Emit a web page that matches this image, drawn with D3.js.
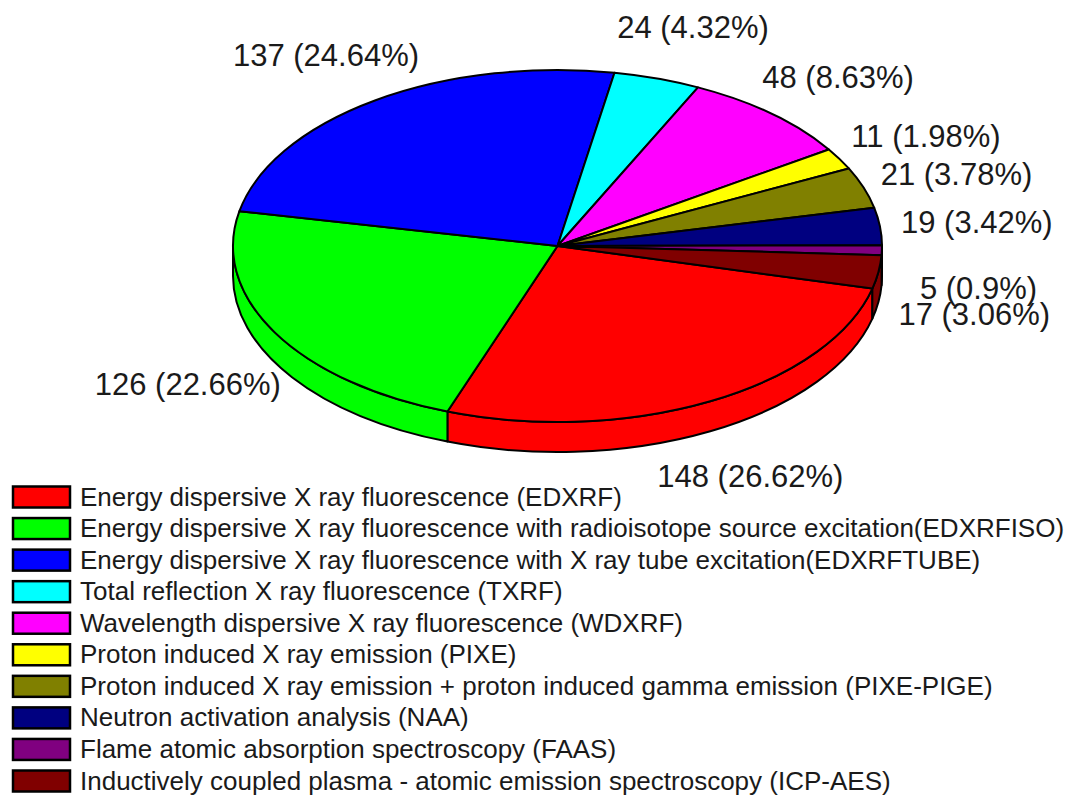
<!DOCTYPE html>
<html>
<head>
<meta charset="utf-8">
<script src="https://cdn.jsdelivr.net/npm/d3@7"></script>
<style>
  html, body { margin: 0; padding: 0; background: #fff; }
  svg { display: block; font-family: "Liberation Sans", Arial, sans-serif; }
</style>
</head>
<body>
<svg id="chart" width="1069" height="796"></svg>
<script>
// Publication counts by analytical technique
const categories = [
  "Energy dispersive X ray fluorescence (EDXRF)",
  "Energy dispersive X ray fluorescence with radioisotope source excitation(EDXRFISO)",
  "Energy dispersive X ray fluorescence with X ray tube excitation(EDXRFTUBE)",
  "Total reflection X ray fluorescence (TXRF)",
  "Wavelength dispersive X ray fluorescence (WDXRF)",
  "Proton induced X ray emission (PIXE)",
  "Proton induced X ray emission + proton induced gamma emission (PIXE-PIGE)",
  "Neutron activation analysis (NAA)",
  "Flame atomic absorption spectroscopy (FAAS)",
  "Inductively coupled plasma - atomic emission spectroscopy (ICP-AES)"
];
const counts = [148, 126, 137, 24, 48, 11, 21, 19, 5, 17];
const percentLabels = ["26.62%", "22.66%", "24.64%", "4.32%", "8.63%", "1.98%", "3.78%", "3.42%", "0.9%", "3.06%"];
const colors = ["#ff0000", "#00ff00", "#0000ff", "#00ffff", "#ff00ff", "#ffff00", "#808000", "#000080", "#800080", "#800000"];

// Label placement relative to each slice's mid-rim point
const labelOffsets = [[-53, 86], [-180, 63], [-142, -34], [-40, -41], [-9, -26], [12, -12], [17, -3], [21, 7], [38, 49], [20, 53]];

const svg = d3.select("#chart");
const cx = 557.5, cy = 246, rx = 324.5, ry = 176, depth = 30;
const deg = Math.PI / 180;

const pie = d3.pie().sort(null).value(d => d)
  .startAngle(104 * deg).endAngle(464 * deg);
const arcs = pie(counts);

const px = a => cx + rx * Math.sin(a);
const py = (a, dz = 0) => cy - ry * Math.cos(a) + dz;

// Front side walls (visible between 90° and 270°)
const sideLayer = svg.append("g");
arcs.forEach((d, i) => {
  for (let k = -1; k <= 1; k++) {
    const a0 = Math.max(d.startAngle + k * 2 * Math.PI, 90 * deg);
    const a1 = Math.min(d.endAngle + k * 2 * Math.PI, 270 * deg);
    if (a1 <= a0) continue;
    const large = (a1 - a0) > Math.PI ? 1 : 0;
    const p = `M${px(a0)},${py(a0)}` +
      `A${rx},${ry} 0 ${large} 1 ${px(a1)},${py(a1)}` +
      `L${px(a1)},${py(a1, depth)}` +
      `A${rx},${ry} 0 ${large} 0 ${px(a0)},${py(a0, depth)}Z`;
    sideLayer.append("path").attr("d", p)
      .attr("fill", colors[i]).attr("stroke", "#000")
      .attr("stroke-width", 2).attr("stroke-linejoin", "round");
  }
});

// Top face
const faceLayer = svg.append("g");
arcs.forEach((d, i) => {
  const a0 = d.startAngle, a1 = d.endAngle;
  const large = (a1 - a0) > Math.PI ? 1 : 0;
  const p = `M${cx},${cy}L${px(a0)},${py(a0)}` +
    `A${rx},${ry} 0 ${large} 1 ${px(a1)},${py(a1)}Z`;
  faceLayer.append("path").attr("d", p)
    .attr("fill", colors[i]).attr("stroke", "#000")
    .attr("stroke-width", 2).attr("stroke-linejoin", "round");
});

// Value labels
const labelLayer = svg.append("g").attr("font-size", 31).attr("fill", "#1a1a1a");
arcs.forEach((d, i) => {
  const m = (d.startAngle + d.endAngle) / 2;
  labelLayer.append("text")
    .attr("x", px(m) + labelOffsets[i][0])
    .attr("y", py(m) + labelOffsets[i][1])
    .text(`${counts[i]} (${percentLabels[i]})`);
});

// Legend
const legendY = d3.scaleLinear().domain([0, categories.length - 1]).range([497, 781]);
const legendLayer = svg.append("g");
categories.forEach((c, i) => {
  const y = legendY(i);
  legendLayer.append("rect")
    .attr("x", 13).attr("y", y - 10.5).attr("width", 57).attr("height", 21)
    .attr("fill", colors[i]).attr("stroke", "#000").attr("stroke-width", 2.5);
  legendLayer.append("text")
    .attr("x", 80).attr("y", y + 8.5)
    .attr("font-size", 26).attr("fill", "#1a1a1a")
    .text(c);
});
</script>
</body>
</html>
